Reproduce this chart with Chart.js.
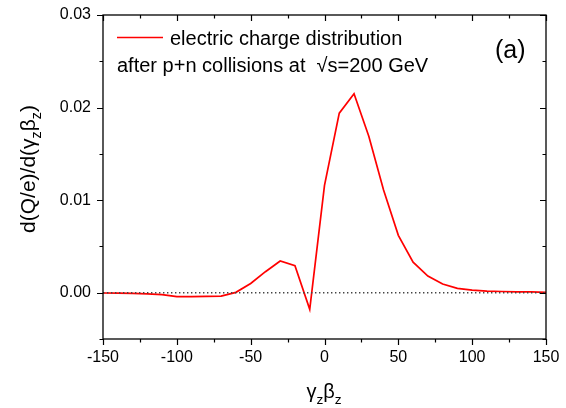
<!DOCTYPE html>
<html>
<head>
<meta charset="utf-8">
<script src="https://cdn.jsdelivr.net/npm/chart.js@4.4.1/dist/chart.umd.min.js"></script>
<style>
  html, body { margin:0; padding:0; background:#fff; }
  #wrap { width:566px; height:408px; }
</style>
</head>
<body>
<div id="wrap"><canvas id="chart"></canvas></div>
<script>
'use strict';

// ── Data ──────────────────────────────────────────────────────────────────────
const xVals = [-150,-140,-130,-120,-110,-100,-90,-80,-70,-60,-50,-40,-30,-20,-10,
               0,10,20,30,40,50,60,70,80,90,100,110,120,130,140,150];
const charge = [-0.00003,-0.00005,-0.00007,-0.00012,-0.0002,-0.00043,-0.00042,-0.0004,-0.00036,0.00004,
                0.0010,0.00227,0.00342,0.00292,-0.0018,
                0.0116,0.0194,0.0215,0.0169,0.0111,0.0062,0.0033,0.0018,0.00094,0.00047,
                0.00029,0.00018,0.00013,0.0001,0.00008,0.00004];
const zeroX = [-150, 150];
const zeroY = [0, 0];

const xRange = [-150, 150], xStep = 25, xLabelStep = 50;
const yRange = [-0.005, 0.03], yStep = 0.005;

const legendLines = ['electric charge distribution', 'after p+n collisions at  \u221As=200 GeV'];
const panelTag = '(a)';
const xTitle = [{t:'\u03B3'}, {t:'z', sub:true}, {t:'\u03B2'}, {t:'z', sub:true}];
const yTitle = [{t:'d(Q/e)/d(\u03B3'}, {t:'z', sub:true}, {t:'\u03B2'}, {t:'z', sub:true}, {t:')'}];

const FONT = '"Liberation Sans", Arial, sans-serif';

// ── helpers ───────────────────────────────────────────────────────────────────
function richWidth(ctx, parts, size) {
  let w = 0;
  parts.forEach(p => { ctx.font = (p.sub ? size*0.68 : size) + 'px ' + FONT; w += ctx.measureText(p.t).width; });
  return w;
}
function drawRich(ctx, parts, x, y, size) {
  let cx = x;
  parts.forEach(p => {
    const s = p.sub ? size*0.68 : size;
    ctx.font = s + 'px ' + FONT;
    ctx.fillText(p.t, cx, p.sub ? y + size*0.28 : y);
    cx += ctx.measureText(p.t).width;
  });
}

// ── Frame, ticks, titles, legend ─────────────────────────────────────────────
const decor = {
  id: 'decor',
  afterDraw(chart) {
    const { ctx, chartArea: a } = chart;
    const xs = chart.scales.x, ys = chart.scales.y;
    ctx.save();
    ctx.strokeStyle = '#000';
    ctx.lineWidth = 1.3;
    ctx.strokeRect(a.left, a.top, a.right - a.left, a.bottom - a.top);

    ctx.lineWidth = 1.2;
    ctx.beginPath();
    xs.ticks.forEach(t => {
      const px = Math.round(xs.getPixelForValue(t.value)) + 0.5;
      const len = Math.abs(Math.round(t.value / xLabelStep * 2) % 2) === 0 ? 6 : 3.5;
      ctx.moveTo(px, a.bottom); ctx.lineTo(px, a.bottom + len);
      ctx.moveTo(px, a.top); ctx.lineTo(px, a.top + len);
    });
    ys.ticks.forEach(t => {
      const py = Math.round(ys.getPixelForValue(t.value)) + 0.5;
      const len = Math.abs(Math.round(t.value / yStep) % 2) === 0 ? 6 : 3.5;
      ctx.moveTo(a.left, py); ctx.lineTo(a.left - len, py);
      ctx.moveTo(a.right, py); ctx.lineTo(a.right - len, py);
    });
    ctx.stroke();

    // legend
    ctx.strokeStyle = '#ff0000';
    ctx.lineWidth = 1.6;
    ctx.beginPath(); ctx.moveTo(117, 37.5); ctx.lineTo(163, 37.5); ctx.stroke();
    ctx.fillStyle = '#000';
    ctx.textBaseline = 'alphabetic';
    ctx.textAlign = 'left';
    ctx.font = '20px ' + FONT;
    ctx.fillText(legendLines[0], 170, 45);
    ctx.fillText(legendLines[1], 117, 72);
    ctx.font = '25px ' + FONT;
    ctx.fillText(panelTag, 495, 58);

    // axis titles
    const xw = richWidth(ctx, xTitle, 20);
    drawRich(ctx, xTitle, 324 - xw / 2, 398, 20);
    const yw = richWidth(ctx, yTitle, 21);
    ctx.translate(35, 169);
    ctx.rotate(-Math.PI / 2);
    drawRich(ctx, yTitle, -yw / 2, 0, 21);
    ctx.restore();
  }
};

new Chart(document.getElementById('chart'), {
  type: 'line',
  data: {
    datasets: [
      { label: 'zero', data: zeroX.map((x, i) => ({ x, y: zeroY[i] })), borderColor: '#444', borderWidth: 1.4,
        borderDash: [1.4, 2.6], pointRadius: 0, fill: false },
      { label: 'electric charge distribution', data: xVals.map((x, i) => ({ x, y: charge[i] })),
        borderColor: '#ff0000', borderWidth: 1.7, pointRadius: 0, fill: false, tension: 0 }
    ]
  },
  options: {
    responsive: true, maintainAspectRatio: false, animation: false,
    layout: { padding: { left: 0, top: 15, right: 20, bottom: 0 } },
    plugins: { legend: { display: false }, tooltip: { enabled: false } },
    scales: {
      x: {
        type: 'linear', min: xRange[0], max: xRange[1],
        afterFit: s => { s.height = 69; s.paddingLeft = 0; s.paddingRight = 0; },
        grid: { display: false, drawTicks: false }, border: { display: false },
        ticks: { stepSize: xStep, padding: 9, color: '#000', font: { family: FONT, size: 16 }, maxRotation: 0,
                 autoSkip: false, callback: v => Math.abs(Math.round(v / xLabelStep * 2) % 2) === 0 ? String(v) : '' }
      },
      y: {
        type: 'linear', min: yRange[0], max: yRange[1],
        afterFit: s => { s.width = 103; s.paddingTop = 0; s.paddingBottom = 0; },
        grid: { display: false, drawTicks: false }, border: { display: false },
        ticks: { stepSize: yStep, padding: 12, color: '#000', font: { family: FONT, size: 16 }, autoSkip: false,
                 callback: v => Math.abs(Math.round(v / yStep) % 2) === 0 ? Math.abs(v) < 1e-9 ? '0.00' : v.toFixed(2) : '' }
      }
    }
  },
  plugins: [decor]
});
</script>
</body>
</html>
